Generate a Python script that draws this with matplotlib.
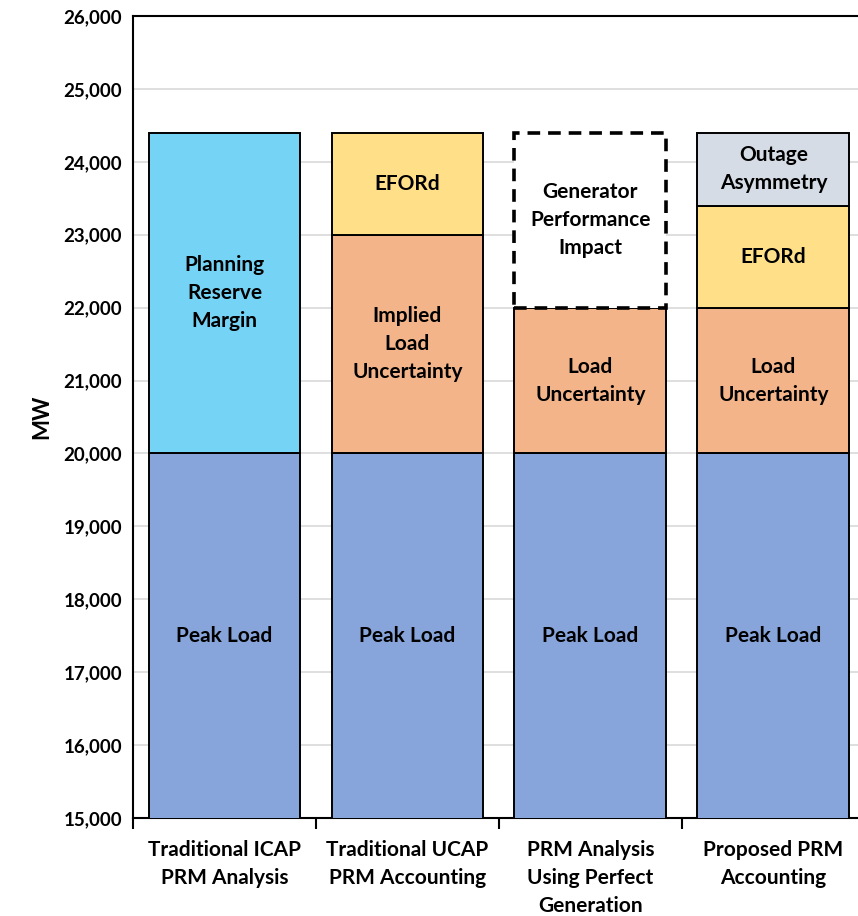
import matplotlib
matplotlib.use("Agg")

import matplotlib.pyplot as plt
import numpy as np

plt.rcParams["font.family"] = ["Lato", "DejaVu Sans"]
plt.rcParams["font.weight"] = "bold"

categories = [
    "Traditional ICAP\nPRM Analysis",
    "Traditional UCAP\nPRM Accounting",
    "PRM Analysis\nUsing Perfect\nGeneration",
    "Proposed PRM\nAccounting",
]

# stacked segments, bottom to top (MW); 0 = segment absent in that bar
peak_load = [20000, 20000, 20000, 20000]
reserve_margin = [4400, 0, 0, 0]
load_uncertainty = [0, 3000, 2000, 2000]
eford = [0, 1400, 0, 1400]
gen_performance = [0, 0, 2400, 0]
outage_asym = [0, 0, 0, 1000]

segments = [
    (peak_load, ["Peak Load"] * 4, "#87A5DA"),
    (reserve_margin, ["Planning\nReserve\nMargin", "", "", ""], "#75D3F5"),
    (load_uncertainty, ["", "Implied\nLoad\nUncertainty", "Load\nUncertainty", "Load\nUncertainty"], "#F4B48A"),
    (eford, ["", "EFORd", "", "EFORd"], "#FFDF88"),
    (gen_performance, ["", "", "Generator\nPerformance\nImpact", ""], "white"),
    (outage_asym, ["", "", "", "Outage\nAsymmetry"], "#D6DCE5"),
]

ymin, ymax = 15000, 26000

fig = plt.figure(figsize=(8.58, 9.16), dpi=100)
ax = fig.add_axes([0.155, 0.107, 0.853, 0.8755])

x = np.arange(len(categories))
bottom = np.zeros(len(categories))
for vals, labels, color in segments:
    vals = np.array(vals, dtype=float)
    dashed = color == "white"
    keep = vals > 0
    ax.bar(
        x[keep], vals[keep], 0.83, bottom=bottom[keep], color=color,
        edgecolor="black", linewidth=2.6 if dashed else 1.4,
        linestyle=(0, (3.5, 2.2)) if dashed else "-", zorder=3,
    )
    for i, (v, lab) in enumerate(zip(vals, labels)):
        if v <= 0 or not lab:
            continue
        lo = max(bottom[i], ymin)
        hi = min(bottom[i] + v, ymax)
        ax.text(x[i], (lo + hi) / 2, lab, ha="center", va="center",
                fontsize=15, fontweight="bold", linespacing=1.5, zorder=4)
    bottom += vals

ax.set_ylim(ymin, ymax)
ax.set_xlim(-0.5, len(categories) - 0.5)
ax.set_yticks(np.arange(ymin, ymax + 1, 1000))
ax.yaxis.set_major_formatter(matplotlib.ticker.FuncFormatter(lambda v, p: f"{v:,.0f}"))
ax.tick_params(axis="y", length=0, labelsize=13.5, pad=8)
ax.set_ylabel("MW", fontsize=16, fontweight="bold", labelpad=8)

ax.set_xticks(x)
ax.set_xticklabels(categories, fontsize=15, fontweight="bold", linespacing=1.5)
ax.tick_params(axis="x", which="major", length=0, pad=16)
ax.set_xticks(np.arange(-0.5, len(categories), 1), minor=True)
ax.tick_params(axis="x", which="minor", length=8, width=1.5, direction="out")

ax.grid(axis="y", color="#d9d9d9", linewidth=1.2, zorder=0)
ax.set_axisbelow(True)
for s in ax.spines.values():
    s.set_linewidth(1.5)

fig.savefig("out.png", dpi=100)
